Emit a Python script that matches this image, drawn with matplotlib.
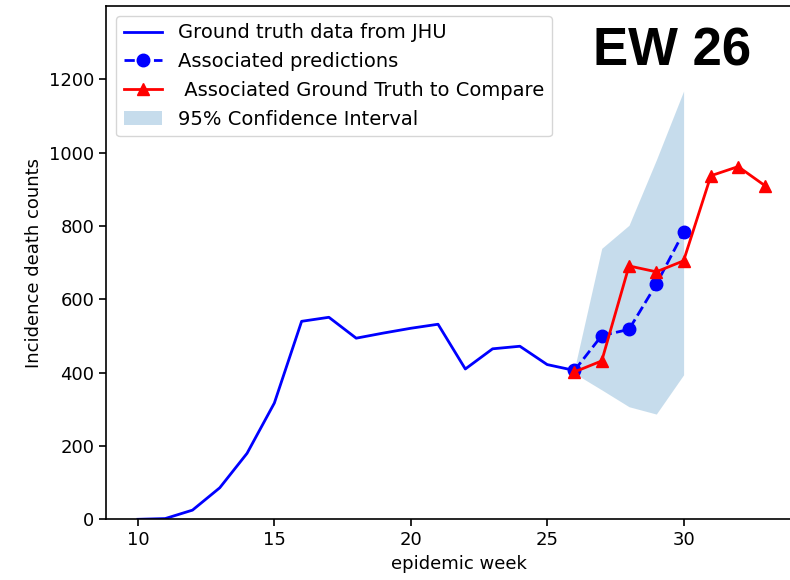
import numpy as np
import matplotlib
matplotlib.use('Agg')
import matplotlib.pyplot as plt

# ground truth (JHU), weeks 10..26
gt_weeks = np.arange(10, 27)
gt_deaths = np.array([0, 2, 25, 86, 180, 317, 540, 551, 494, 508, 521, 532,
                      410, 465, 472, 422, 406])

# predictions from week 26
pred_weeks = np.arange(26, 31)
pred_deaths = np.array([406, 501, 518, 641, 783])
ci_lower = np.array([398, 353, 307, 287, 394])
ci_upper = np.array([410, 739, 802, 980, 1168])

# ground truth to compare
cmp_weeks = np.arange(26, 34)
cmp_deaths = np.array([402, 432, 691, 675, 705, 937, 962, 909])

plt.rcParams['font.size'] = 13

fig = plt.figure(figsize=(7.9, 5.8), dpi=100)
# axes runs past the right edge of the figure, like the cropped original
ax = fig.add_axes([106 / 790, 1 - 519.3 / 580, 705 / 790, 513.3 / 580])

ax.plot(gt_weeks, gt_deaths, 'b-', lw=2, label='Ground truth data from JHU')
ax.plot(pred_weeks, pred_deaths, 'b--', marker='o', ms=9, lw=2,
        label='Associated predictions')
ax.plot(cmp_weeks, cmp_deaths, 'r-', marker='^', ms=9, lw=2,
        label=' Associated Ground Truth to Compare')
ax.fill_between(pred_weeks, ci_lower, ci_upper, color='tab:blue', alpha=0.25,
                lw=0, label='95% Confidence Interval')

ax.set_xlim(8.83, 34.67)
ax.set_ylim(0, 1400)
ax.set_yticks([0, 200, 400, 600, 800, 1000, 1200])
ax.set_xticks([10, 15, 20, 25, 30])
ax.set_xlabel('epidemic week')
ax.set_ylabel('Incidence death counts')
ax.tick_params(length=5, width=1.2)
for s in ax.spines.values():
    s.set_linewidth(1.2)

ax.legend(loc='upper left', fontsize=14)

fig.text(672 / 790, 1 - 51 / 580, 'EW 26', fontsize=38, fontweight='bold',
         family='Liberation Sans', ha='center', va='center')

fig.savefig('out.png', dpi=100)
